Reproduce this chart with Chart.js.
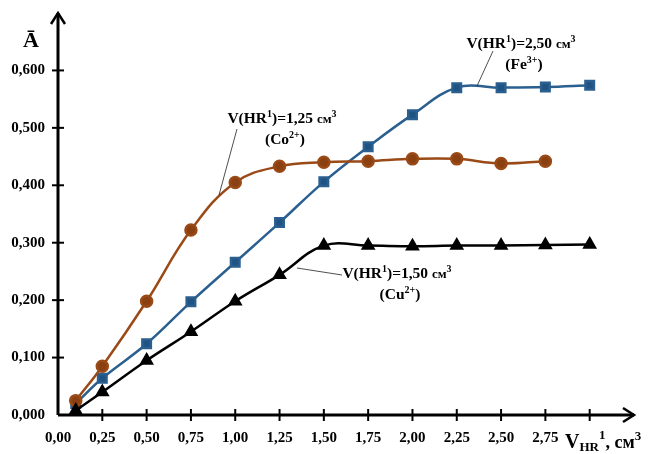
<!DOCTYPE html>
<html><head><meta charset="utf-8">
<script src="https://cdn.jsdelivr.net/npm/chart.js@4"></script>
<style>html,body{margin:0;padding:0;background:#fff}#wrap{width:648px;height:454px}</style>
</head><body><div id="wrap"><canvas id="c" width="648" height="454"></canvas></div>
<script>
const volumes = [0.10, 0.25, 0.50, 0.75, 1.00, 1.25, 1.50, 1.75, 2.00, 2.25, 2.50, 2.75, 3.00];
const coValues = [0.025, 0.085, 0.198, 0.322, 0.405, 0.433, 0.440, 0.442, 0.446, 0.446, 0.438, 0.442];
const feValues = [0.020, 0.064, 0.124, 0.197, 0.266, 0.335, 0.406, 0.467, 0.523, 0.570, 0.570, 0.571, 0.574];
const cuValues = [0.008, 0.040, 0.095, 0.145, 0.198, 0.244, 0.295, 0.295, 0.294, 0.295, 0.295, 0.296, 0.297];
const xTickLabels = ["0,00","0,25","0,50","0,75","1,00","1,25","1,50","1,75","2,00","2,25","2,50","2,75"];
const yTickLabels = ["0,000","0,100","0,200","0,300","0,400","0,500","0,600"];

const SERIF = '"Liberation Serif", "Times New Roman", serif';
const pts = (vals) => vals.map((v, i) => ({x: volumes[i], y: v}));

const axesPlugin = {
  id: 'axesPlugin',
  afterDraw(chart) {
    const ctx = chart.ctx, xs = chart.scales.x, ys = chart.scales.y;
    const x0 = xs.getPixelForValue(0), y0 = ys.getPixelForValue(0);
    const xEnd = xs.getPixelForValue(3.25), yEnd = ys.getPixelForValue(0.7);
    ctx.save();
    ctx.strokeStyle = '#000'; ctx.lineWidth = 3; ctx.lineCap = 'butt';
    ctx.beginPath(); ctx.moveTo(x0, y0); ctx.lineTo(xEnd, y0); ctx.stroke();
    ctx.beginPath(); ctx.moveTo(x0, y0); ctx.lineTo(x0, yEnd); ctx.stroke();
    // arrows
    ctx.lineWidth = 2.5; ctx.lineJoin = 'miter';
    ctx.beginPath(); ctx.moveTo(xEnd - 11, y0 - 7); ctx.lineTo(xEnd, y0); ctx.lineTo(xEnd - 11, y0 + 7); ctx.stroke();
    ctx.beginPath(); ctx.moveTo(x0 - 7, yEnd + 11); ctx.lineTo(x0, yEnd); ctx.lineTo(x0 + 7, yEnd + 11); ctx.stroke();
    // tick marks
    ctx.lineWidth = 2;
    for (let i = 1; i <= 12; i++) {
      const px = xs.getPixelForValue(i * 0.25);
      ctx.beginPath(); ctx.moveTo(px, y0 - 6); ctx.lineTo(px, y0 + 6); ctx.stroke();
    }
    for (let i = 1; i <= 6; i++) {
      const py = ys.getPixelForValue(i * 0.1);
      ctx.beginPath(); ctx.moveTo(x0 - 6, py); ctx.lineTo(x0 + 6, py); ctx.stroke();
    }
    // axis titles
    ctx.fillStyle = '#000'; ctx.textBaseline = 'alphabetic'; ctx.textAlign = 'left';
    ctx.font = 'bold 22px ' + SERIF;
    ctx.fillText('Ā', 23, 47);
    let x = 565, yb = 448;
    ctx.font = 'bold 20px ' + SERIF; ctx.fillText('V', x, yb); x += ctx.measureText('V').width;
    ctx.font = 'bold 13px ' + SERIF; ctx.fillText('HR', x, yb + 3); x += ctx.measureText('HR').width;
    ctx.font = 'bold 13px ' + SERIF; ctx.fillText('1', x, yb - 9); x += ctx.measureText('1').width;
    ctx.font = 'bold 18px ' + SERIF; ctx.fillText(', см', x, yb); x += ctx.measureText(', см').width;
    ctx.font = 'bold 13px ' + SERIF; ctx.fillText('3', x, yb - 8);

    // annotations
    function label(cx, cy, vol, ion, charge) {
      const parts = [
        ['V(HR', 15.5, 0], ['1', 10, -6], [')=' + vol + ' ', 15.5, 0], ['см', 13, 0], ['3', 10, -6]
      ];
      let w = 0;
      parts.forEach(p => { ctx.font = 'bold ' + p[1] + 'px ' + SERIF; w += ctx.measureText(p[0]).width; });
      let px = cx - w / 2;
      parts.forEach(p => { ctx.font = 'bold ' + p[1] + 'px ' + SERIF; ctx.fillText(p[0], px, cy + p[2]); px += ctx.measureText(p[0]).width; });
      const parts2 = [['(' + ion, 15.5, 0], [charge, 10, -6], [')', 15.5, 0]];
      w = 0;
      parts2.forEach(p => { ctx.font = 'bold ' + p[1] + 'px ' + SERIF; w += ctx.measureText(p[0]).width; });
      px = cx - w / 2 + 3;
      parts2.forEach(p => { ctx.font = 'bold ' + p[1] + 'px ' + SERIF; ctx.fillText(p[0], px, cy + 21 + p[2]); px += ctx.measureText(p[0]).width; });
    }
    label(282, 123, '1,25', 'Co', '2+');
    label(521, 48, '2,50', 'Fe', '3+');
    label(397, 278, '1,50', 'Cu', '2+');
    ctx.strokeStyle = '#222'; ctx.lineWidth = 0.8;
    ctx.beginPath(); ctx.moveTo(237, 129); ctx.lineTo(219, 195); ctx.stroke();
    ctx.beginPath(); ctx.moveTo(493, 51); ctx.lineTo(477, 86); ctx.stroke();
    ctx.beginPath(); ctx.moveTo(297, 268); ctx.lineTo(342, 275); ctx.stroke();
    ctx.restore();
  }
};

new Chart(document.getElementById('c'), {
  type: 'line',
  data: {
    datasets: [
      { label: 'Cu', data: pts(cuValues), borderColor: '#000', backgroundColor: '#000', pointStyle: 'triangle', pointRadius: 6, borderWidth: 2.5, tension: 0.4 },
      { label: 'Co', data: pts(coValues), borderColor: '#9A4A17', backgroundColor: '#8B4012', pointStyle: 'circle', pointRadius: 5.5, borderWidth: 2.5, tension: 0.4 },
      { label: 'Fe', data: pts(feValues), borderColor: '#2A5F8F', backgroundColor: '#1F5384', pointStyle: 'rect', pointRadius: 6, borderWidth: 2.5, tension: 0.4 }
    ]
  },
  options: {
    responsive: false, animation: false, devicePixelRatio: 1,
    layout: { padding: { top: 13, right: 14, left: 0, bottom: 0 } },
    plugins: { legend: { display: false }, tooltip: { enabled: false } },
    elements: { point: { borderWidth: 0 }, line: { cubicInterpolationMode: 'default' } },
    scales: {
      x: {
        type: 'linear', min: 0, max: 3.25,
        afterBuildTicks: s => { s.ticks = xTickLabels.map((t, i) => ({ value: i * 0.25 })); },
        afterFit: s => { s.height = 39; s.paddingLeft = 0; s.paddingRight = 0; },
        grid: { display: false, drawTicks: false, tickLength: 0 }, border: { display: false },
        ticks: { color: '#000', padding: 14, maxRotation: 0, autoSkip: false,
          font: { family: SERIF, size: 15, weight: 'bold' },
          callback: (v, i) => xTickLabels[i] }
      },
      y: {
        type: 'linear', min: 0, max: 0.7,
        afterBuildTicks: s => { s.ticks = yTickLabels.map((t, i) => ({ value: i * 0.1 })); },
        afterFit: s => { s.width = 58; s.paddingTop = 0; s.paddingBottom = 0; },
        grid: { display: false, drawTicks: false, tickLength: 0 }, border: { display: false },
        ticks: { color: '#000', padding: 13, autoSkip: false,
          font: { family: SERIF, size: 15, weight: 'bold' },
          callback: (v, i) => yTickLabels[i] }
      }
    }
  },
  plugins: [axesPlugin]
});
</script>
</body></html>
